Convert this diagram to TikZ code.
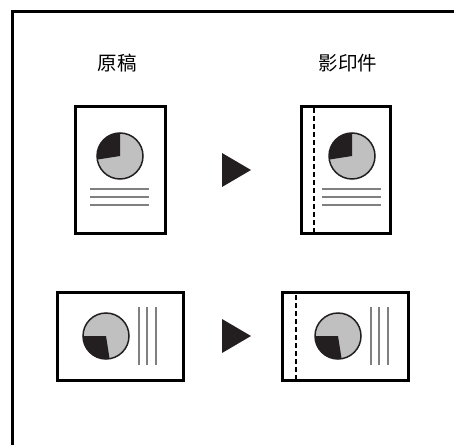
\documentclass[tikz,border=0pt]{standalone}
\usepackage{fontspec}
\newfontfamily\cjk{Noto Sans CJK TC}
\usepackage{tikz}
\usetikzlibrary{calc}
\definecolor{piegray}{RGB}{192,192,192}
\definecolor{piedark}{RGB}{35,31,32}
\definecolor{linegray}{RGB}{128,128,128}

\begin{document}
\begin{tikzpicture}[x=1pt,y=1pt,
  page/.style={line width=3pt,line join=miter},
  pieline/.style={draw=piedark,line width=1.5pt},
  textline/.style={linegray,line width=2.6pt},
  margin/.style={line width=1.5pt,dash pattern=on 5pt off 3pt},
  label/.style={font=\cjk\fontsize{19.5}{19.5}\selectfont,inner sep=0pt}]
\useasboundingbox (0,0) rectangle (454,445);
\draw[line width=3pt] (12,0)--(12,433)--(454,433);
\node[label] (orig) at (117,382) {原稿};
\node[label] (copy) at (348,382) {影印件};
% portrait original
\coordinate (P1) at (120,289);
\draw[page] (75,212) rectangle (165,338);
\fill[piegray] (P1) circle(23);
\fill[piedark] (P1)--++(90:23) arc(90:189:23)--cycle;
\draw[pieline] (P1) circle(23);
\draw[textline] (90,256)--(149,256);
\draw[textline] (90,248)--(149,248);
\draw[textline] (90,240)--(149,240);
\fill[piedark] (222,292)--(251,275)--(222,258)--cycle;
% portrait copy
\coordinate (P2) at (352,289);
\draw[page] (301,212) rectangle (390,338);
\draw[margin] (314,212)--(314,338);
\fill[piegray] (P2) circle(23);
\fill[piedark] (P2)--++(90:23) arc(90:189:23)--cycle;
\draw[pieline] (P2) circle(23);
\draw[textline] (322,256)--(381,256);
\draw[textline] (322,248)--(381,248);
\draw[textline] (322,240)--(381,240);
% landscape original
\coordinate (L1) at (106,109);
\draw[page] (57,65) rectangle (183,153);
\fill[piegray] (L1) circle(23);
\fill[piedark] (L1)--++(180:23) arc(180:279:23)--cycle;
\draw[pieline] (L1) circle(23);
\draw[textline] (139,80)--(139,138);
\draw[textline] (147,80)--(147,138);
\draw[textline] (156,80)--(156,138);
\fill[piedark] (222,126)--(251,109)--(222,92)--cycle;
% landscape copy
\coordinate (L2) at (338,109);
\draw[page] (282,65) rectangle (408,153);
\draw[margin] (296,65)--(296,153);
\fill[piegray] (L2) circle(23);
\fill[piedark] (L2)--++(180:23) arc(180:279:23)--cycle;
\draw[pieline] (L2) circle(23);
\draw[textline] (371,80)--(371,138);
\draw[textline] (379,80)--(379,138);
\draw[textline] (388,80)--(388,138);
\end{tikzpicture}
\end{document}
